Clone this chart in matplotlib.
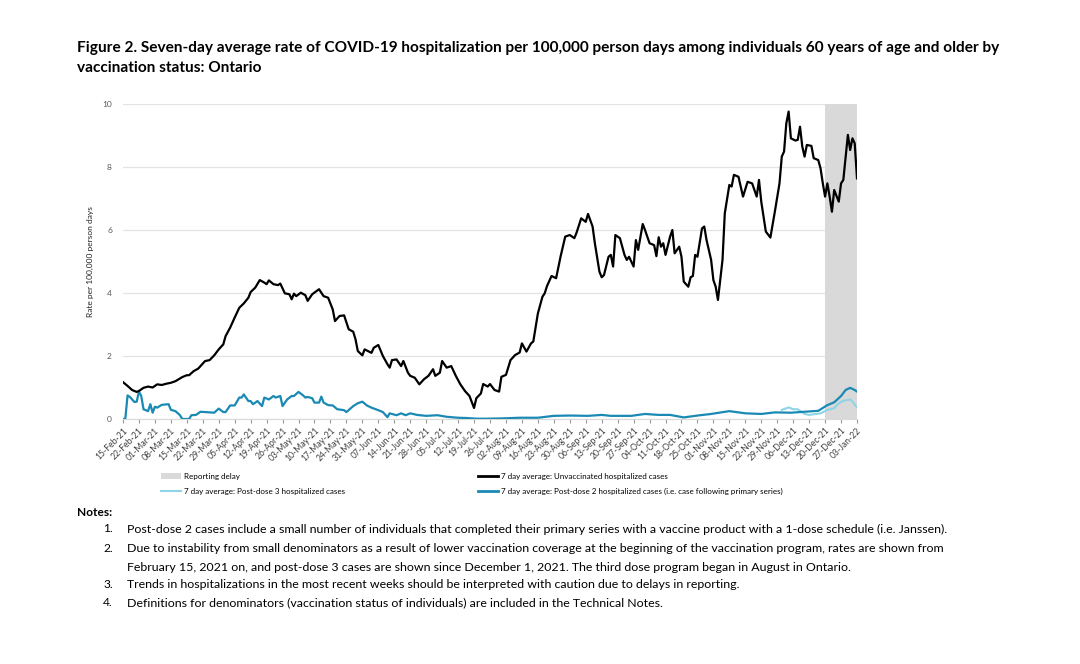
import numpy as np
import pandas as pd
import matplotlib
matplotlib.use("Agg")
import matplotlib.pyplot as plt
from matplotlib.patches import Patch
from matplotlib.lines import Line2D

plt.rcParams['font.family'] = ['Lato', 'DejaVu Sans']

# ---- data (days since 15-Feb-21, rate per 100,000 person days)
start = pd.Timestamp("2021-02-15")

unvax_days = [0, 2, 4, 6, 7, 9, 11, 13, 15, 17, 19, 21, 23, 26, 28, 29, 31, 33, 34, 36,
              38, 40, 42, 44, 45, 47, 49, 51, 53, 55, 56, 58, 60, 62, 63, 64, 66, 68, 69, 71,
              73, 74, 75, 76, 78, 80, 81, 83, 86, 88, 90, 92, 93, 95, 97, 99, 101, 102, 103, 105,
              106, 109, 110, 112, 114, 116, 117, 118, 120, 122, 123, 125, 126, 128, 130, 132, 134, 136, 137, 139,
              140, 142, 144, 146, 148, 150, 152, 154, 155, 157, 158, 160, 161, 163, 165, 166, 168, 170, 172, 174,
              175, 177, 179, 180, 182, 184, 185, 186, 188, 190, 192, 194, 196, 198, 199, 201, 203, 204, 206, 207,
              209, 210, 211, 213, 214, 215, 216, 218, 220, 221, 222, 224, 225, 226, 228, 229, 231, 233, 234, 235,
              236, 237, 238, 240, 241, 242, 244, 245, 246, 248, 249, 250, 251, 252, 254, 255, 256, 258, 259, 260,
              261, 263, 264, 266, 267, 268, 270, 272, 274, 276, 278, 279, 280, 282, 284, 286, 288, 289, 290, 291,
              292, 293, 295, 296, 297, 298, 299, 300, 302, 303, 305, 306, 307, 308, 309, 310, 311, 312, 314, 315,
              316, 318, 319, 320, 321, 322]
unvax_rate = [1.17, 1.05, 0.92, 0.86, 0.89, 0.99, 1.03, 1.00, 1.10, 1.08, 1.12, 1.15, 1.20, 1.33, 1.39, 1.39, 1.52, 1.60, 1.68, 1.84,
              1.87, 2.02, 2.21, 2.37, 2.63, 2.90, 3.22, 3.53, 3.67, 3.85, 4.03, 4.17, 4.41, 4.33, 4.28, 4.40, 4.28, 4.25, 4.30, 3.99,
              3.96, 3.80, 3.98, 3.90, 4.01, 3.93, 3.75, 3.96, 4.12, 3.90, 3.85, 3.48, 3.11, 3.27, 3.29, 2.85, 2.77, 2.53, 2.16, 2.02,
              2.21, 2.10, 2.26, 2.35, 2.00, 1.74, 1.63, 1.87, 1.89, 1.68, 1.84, 1.47, 1.37, 1.31, 1.10, 1.26, 1.37, 1.58, 1.37, 1.47,
              1.84, 1.63, 1.68, 1.37, 1.10, 0.89, 0.73, 0.35, 0.66, 0.81, 1.11, 1.03, 1.11, 0.92, 0.87, 1.34, 1.40, 1.87, 2.03, 2.11,
              2.40, 2.14, 2.40, 2.46, 3.35, 3.88, 3.99, 4.22, 4.54, 4.47, 5.17, 5.79, 5.84, 5.74, 5.92, 6.37, 6.26, 6.51, 6.11, 5.58,
              4.68, 4.50, 4.57, 5.15, 5.21, 4.84, 5.84, 5.74, 5.21, 5.05, 5.15, 4.84, 5.68, 5.37, 6.19, 6.00, 5.58, 5.52, 5.17, 5.77,
              5.47, 5.58, 5.21, 5.79, 6.00, 5.26, 5.47, 5.15, 4.36, 4.20, 4.50, 4.54, 5.21, 5.15, 6.05, 6.11, 5.68, 5.05, 4.41, 4.20,
              3.78, 5.05, 6.53, 7.43, 7.38, 7.75, 7.69, 7.06, 7.53, 7.48, 7.06, 7.59, 6.90, 5.95, 5.76, 6.60, 7.48, 8.33, 8.49, 9.39,
              9.76, 8.91, 8.84, 8.86, 9.28, 8.65, 8.33, 8.70, 8.67, 8.28, 8.22, 7.96, 7.48, 7.06, 7.48, 7.06, 6.58, 7.27, 6.90, 7.48,
              7.59, 9.02, 8.54, 8.91, 8.75, 7.64]

dose2_days = [0, 1, 2, 3, 5, 6, 7, 8, 9, 11, 12, 13, 14, 15, 17, 20, 21, 23, 25, 26,
              29, 30, 32, 34, 36, 40, 42, 44, 45, 47, 49, 51, 52, 53, 55, 56, 57, 59, 61, 62,
              64, 66, 67, 69, 70, 72, 74, 75, 77, 79, 80, 81, 82, 83, 84, 86, 87, 88, 90, 92,
              94, 97, 98, 101, 103, 105, 107, 109, 112, 114, 116, 117, 120, 122, 124, 126, 129, 133, 138, 142,
              147, 151, 155, 160, 167, 174, 182, 189, 196, 204, 210, 214, 223, 229, 235, 240, 246, 252, 258, 266,
              273, 280, 286, 293, 299, 305, 309, 312, 315, 317, 319, 321, 322]
dose2_rate = [0.00, 0.00, 0.75, 0.70, 0.54, 0.55, 0.87, 0.73, 0.31, 0.25, 0.47, 0.20, 0.39, 0.36, 0.45, 0.47, 0.29, 0.25, 0.12, 0.00,
              0.00, 0.12, 0.13, 0.23, 0.22, 0.20, 0.33, 0.22, 0.22, 0.43, 0.43, 0.68, 0.68, 0.78, 0.57, 0.57, 0.47, 0.57, 0.41, 0.68,
              0.62, 0.73, 0.68, 0.73, 0.41, 0.62, 0.73, 0.73, 0.86, 0.75, 0.68, 0.70, 0.68, 0.66, 0.52, 0.52, 0.71, 0.52, 0.44, 0.43,
              0.31, 0.28, 0.22, 0.41, 0.50, 0.55, 0.43, 0.36, 0.28, 0.22, 0.06, 0.18, 0.12, 0.18, 0.12, 0.18, 0.13, 0.10, 0.12, 0.07,
              0.04, 0.03, 0.01, 0.01, 0.02, 0.04, 0.04, 0.10, 0.11, 0.10, 0.13, 0.10, 0.10, 0.16, 0.13, 0.13, 0.05, 0.11, 0.16, 0.25,
              0.18, 0.16, 0.21, 0.20, 0.23, 0.26, 0.44, 0.53, 0.73, 0.92, 0.99, 0.92, 0.87]

dose3_days = [289, 291, 292, 294, 296, 299, 301, 303, 306, 309, 312, 314, 316, 319, 320, 322]
dose3_rate = [0.29, 0.34, 0.37, 0.31, 0.31, 0.16, 0.13, 0.15, 0.18, 0.29, 0.34, 0.50, 0.58, 0.62, 0.55, 0.37]

delay_start = "2021-12-20"
delay_end = "2022-01-03"

title = ("Figure 2. Seven-day average rate of COVID-19 hospitalization per 100,000 person days among individuals 60 years of age and older by\n"
         "vaccination status: Ontario")
notes = [
    "Post-dose 2 cases include a small number of individuals that completed their primary series with a vaccine product with a 1-dose schedule (i.e. Janssen).",
    "Due to instability from small denominators as a result of lower vaccination coverage at the beginning of the vaccination program, rates are shown from\n"
    "February 15, 2021 on, and post-dose 3 cases are shown since December 1, 2021. The third dose program began in August in Ontario.",
    "Trends in hospitalizations in the most recent weeks should be interpreted with caution due to delays in reporting.",
    "Definitions for denominators (vaccination status of individuals) are included in the Technical Notes.",
]

BLACK = "#000000"
TEAL = "#1a8ab4"
LIGHT = "#8ed3e6"
GREY = "#d9d9d9"

def to_dates(days):
    return start + pd.to_timedelta(np.array(days), unit="D")

fig = plt.figure(figsize=(10.8, 6.64), dpi=100)
ax = fig.add_axes([123/1080, 1 - 419/664, (857-123)/1080, (419-104)/664])

ax.axvspan(pd.Timestamp(delay_start), pd.Timestamp(delay_end), color=GREY, lw=0, zorder=1)
ax.plot(to_dates(dose3_days), dose3_rate, color=LIGHT, lw=1.5, zorder=3)
ax.plot(to_dates(dose2_days), dose2_rate, color=TEAL, lw=1.6, zorder=4)
ax.plot(to_dates(unvax_days), unvax_rate, color=BLACK, lw=1.6, zorder=5)

ax.set_xlim(start, pd.Timestamp(delay_end))
ax.set_ylim(0, 10)
ax.set_yticks([0, 2, 4, 6, 8, 10])
ax.yaxis.grid(True, color="#e3e3e3", lw=0.9)
ax.set_axisbelow(True)
for s in ["top", "right", "left"]:
    ax.spines[s].set_visible(False)
ax.spines["bottom"].set_color("#d9d9d9")

ticks = pd.date_range(start, delay_end, freq="7D")
ax.set_xticks(ticks)
ax.set_xticklabels([t.strftime("%d-%b-%y") for t in ticks], rotation=45, ha="right",
                   rotation_mode="anchor", fontsize=6.2, color="#404040")
ax.tick_params(axis="x", length=3, color="#999999", pad=2)
ax.tick_params(axis="y", length=0, labelsize=6, labelcolor="#595959", pad=8)
ax.set_ylabel("Rate per 100,000 person days", fontsize=6, color="#222222", labelpad=6)

# legend (two columns placed separately)
h_delay = Patch(facecolor=GREY, edgecolor="none")
h_d3 = Line2D([], [], color=LIGHT, lw=1.5)
h_unv = Line2D([], [], color=BLACK, lw=2)
h_d2 = Line2D([], [], color=TEAL, lw=2)
lkw = dict(frameon=False, fontsize=5.8, handlelength=2.5, handletextpad=0.3,
           labelspacing=1.0, loc="upper left", borderaxespad=0, borderpad=0)
fig.legend([h_delay, h_d3], ["Reporting delay", "7 day average: Post-dose 3 hospitalized cases"],
           bbox_to_anchor=(161/1080, 1 - 473/664), **lkw)
fig.legend([h_unv, h_d2], ["7 day average: Unvaccinated hospitalized cases",
                           "7 day average: Post-dose 2 hospitalized cases (i.e. case following primary series)"],
           bbox_to_anchor=(478/1080, 1 - 473/664), **lkw)

fig.text(77/1080, 1 - 41/664, title, fontsize=11.1, fontweight="bold", va="top",
         linespacing=1.5, color="#000000")

fig.text(77/1080, 1 - 513/664, "Notes:", fontsize=8.6, fontweight="bold", va="center")
note_y = [529, 549, 585, 603]
for i, (n, y) in enumerate(zip(notes, note_y)):
    fig.text(103/1080, 1 - y/664, f"{i+1}.", fontsize=8.6, va="center")
    fig.text(127/1080, 1 - (y + (9 if "\n" in n else 0))/664, n, fontsize=8.95, va="center", linespacing=1.95)

fig.savefig("out.png", dpi=100)
